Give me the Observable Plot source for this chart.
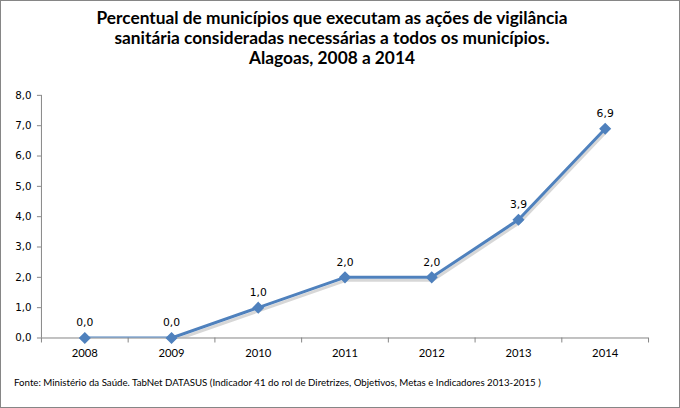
<!DOCTYPE html>
<html><head><meta charset="utf-8">
<script src="https://cdn.jsdelivr.net/npm/d3@7"></script>
<script src="https://cdn.jsdelivr.net/npm/@observablehq/plot@0.6"></script>
<style>
html,body{margin:0;padding:0;background:#fff;}
#wrap{position:relative;width:680px;height:408px;box-sizing:border-box;border:1px solid #868686;overflow:hidden;}
#title{position:absolute;left:0;top:7px;width:662px;text-align:center;font-family:Lato,"Open Sans",sans-serif;font-weight:bold;font-size:17.3px;line-height:20px;color:#000;}
#chart{position:absolute;left:-1px;top:-1px;}
#foot{position:absolute;left:13px;top:375px;font-family:Lato,sans-serif;font-size:9.7px;color:#000;white-space:nowrap;}
</style></head>
<body><div id="wrap">
<div id="title">Percentual de municípios que executam as ações de vigilância<br>sanitária consideradas necessárias a todos os municípios.<br>Alagoas, 2008 a 2014</div>
<div id="chart"></div>
<div id="foot">Fonte: Ministério da Saúde. TabNet DATASUS (Indicador 41 do rol de Diretrizes, Objetivos, Metas e Indicadores 2013-2015 )</div>
</div>
<script>
const years = [2008, 2009, 2010, 2011, 2012, 2013, 2014];
const values = [0.0, 0.0, 1.0, 2.0, 2.0, 3.9, 6.9];
const yTicks = [0, 1, 2, 3, 4, 5, 6, 7, 8];
const data = years.map((y, i) => ({year: y, value: values[i]}));
const bounds = years.map(y => y - 0.5).concat([years[years.length - 1] + 0.5]);
const fmt = v => v.toFixed(1).replace(".", ",");
const blue = "#4F81BD";
const chart = Plot.plot({
  width: 680, height: 370,
  marginTop: 95, marginBottom: 32, marginLeft: 41, marginRight: 31,
  style: {fontFamily: "'DejaVu Sans', sans-serif", fontSize: "10px", color: "#000"},
  x: {type: "linear", domain: [2007.5, 2014.5]},
  y: {domain: [0, 8]},
  marks: [
    Plot.axisY({ticks: yTicks, tickFormat: fmt, tickSize: 4, tickPadding: 6, stroke: "#868686", label: null, fontSize: 10.3}),
    Plot.axisX({ticks: bounds, tickFormat: () => "", tickSize: 5, stroke: "#868686", label: null}),
    Plot.axisX({ticks: years, tickFormat: d => String(d), tickSize: 0, tickPadding: 11, label: null, fontFamily: "Lato, sans-serif", fontSize: 11.3}),
    Plot.ruleY([0], {stroke: "#868686"}),
    Plot.ruleX([2007.5], {stroke: "#868686"}),
    Plot.line(data, {x: "year", y: "value", stroke: "#9a9a9a", strokeWidth: 3, strokeOpacity: 0.4, dx: 1, dy: 3, clip: "frame"}),
    Plot.line(data, {x: "year", y: "value", stroke: blue, strokeWidth: 3, clip: "frame"}),
    Plot.dot(data, {x: "year", y: "value", symbol: "diamond2", fill: blue, stroke: blue, r: 4.5}),
    Plot.text(data, {x: "year", y: "value", text: d => fmt(d.value), dy: -15, fontSize: 10.8, fill: "#000"})
  ]
});
document.getElementById("chart").appendChild(chart);
</script>
</body></html>
